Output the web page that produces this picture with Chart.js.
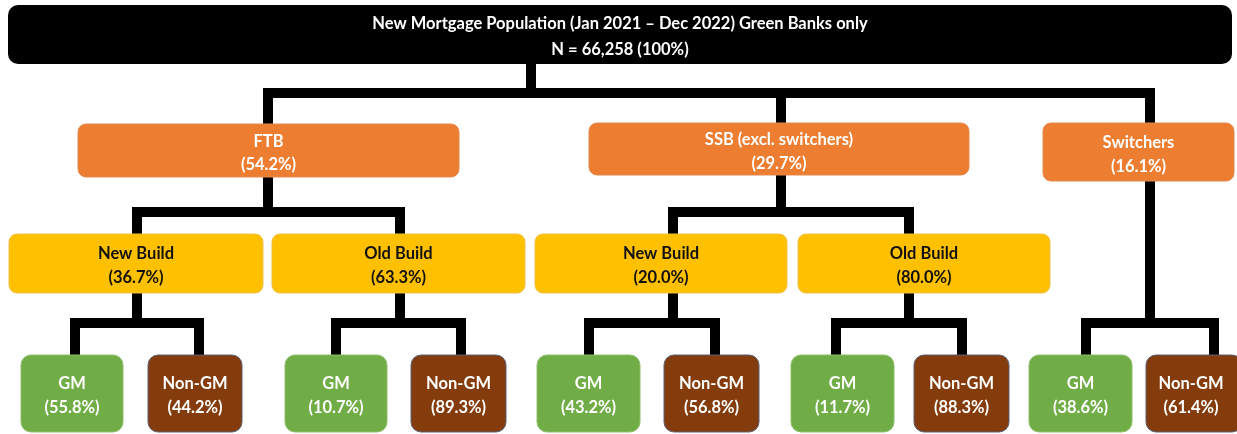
<!DOCTYPE html>
<html>
<head>
<meta charset="utf-8">
<script src="https://cdn.jsdelivr.net/npm/chart.js@4/dist/chart.umd.min.js"></script>
<style>
  html, body { margin: 0; padding: 0; background: #ffffff; }
  #wrap { width: 1237px; height: 434px; }
</style>
</head>
<body>
<div id="wrap"><canvas id="c" width="1237" height="434"></canvas></div>
<script>
// ---------------- DATA ----------------
const rootLines = ['New Mortgage Population (Jan 2021 – Dec 2022) Green Banks only', 'N = 66,258 (100%)'];
const segmentNames = ['FTB', 'SSB (excl. switchers)', 'Switchers'];
const segmentShares = [54.2, 29.7, 16.1];
const buildNames = ['New Build', 'Old Build', 'New Build', 'Old Build'];
const buildShares = [36.7, 63.3, 20.0, 80.0];
const buildParent = [0, 0, 1, 1];            // index into segments
const leafNames = ['GM', 'Non-GM', 'GM', 'Non-GM', 'GM', 'Non-GM', 'GM', 'Non-GM', 'GM', 'Non-GM'];
const leafShares = [55.8, 44.2, 10.7, 89.3, 43.2, 56.8, 11.7, 88.3, 38.6, 61.4];
// parent of each leaf pair: 'b' = build node, 's' = segment node
const leafGroupParent = [['b', 0], ['b', 1], ['b', 2], ['b', 3], ['s', 2]];

// ---------------- LAYOUT (chart units = pixels of a 1237 x 434 area) ----------------
const rootBoxX = [8, 1232], rootBoxY = [5, 64], rootStemX = 531, rootBarY = 93;
const segBoxX = [[78, 459], [589, 969], [1043, 1234]];
const segBoxY = [[124, 177], [123, 175], [123, 181]];
const segStemX = [268, 781, 1150];
const segBarY = 212;
const buildBoxX = [[9, 263], [272, 525], [535, 787], [798, 1050]];
const buildBoxY = [234, 293];
const buildStemX = [137, 400, 673, 909];
const leafBarY = 323;
const leafBoxX = [[21, 123], [148, 242], [285, 387], [411, 506], [537, 640], [664, 759], [791, 894], [914, 1009], [1029, 1132], [1146, 1242]];
const leafBoxY = [355, 432];
const leafDropX = [75, 199, 336, 461, 589, 715, 836, 962, 1086, 1214];

// ---------------- STYLES ----------------
const C_ROOT = '#000000', C_SEG = '#ED7D31', C_BUILD = '#FFC000', C_GM = '#70AD47', C_NONGM = '#843C0C';
const FONT = 'Lato, "Open Sans", sans-serif';

const pct = v => '(' + v.toFixed(1) + '%)';

// ---------------- CONNECTORS ----------------
const connectors = [];
function addPath(pts) { connectors.push(pts); }
const inset = 4;
// root -> segments
addPath([{x: rootStemX, y: rootBoxY[1] - inset}, {x: rootStemX, y: rootBarY}]);
addPath([{x: segStemX[0], y: segBoxY[0][0] + inset}, {x: segStemX[0], y: rootBarY}, {x: segStemX[2], y: rootBarY}, {x: segStemX[2], y: segBoxY[2][0] + inset}]);
addPath([{x: segStemX[1], y: rootBarY}, {x: segStemX[1], y: segBoxY[1][0] + inset}]);
// segments -> builds
[0, 1].forEach(s => {
  const kids = buildParent.map((p, i) => p === s ? i : -1).filter(i => i >= 0);
  addPath([{x: segStemX[s], y: segBoxY[s][1] - inset}, {x: segStemX[s], y: segBarY}]);
  addPath([{x: buildStemX[kids[0]], y: buildBoxY[0] + inset}, {x: buildStemX[kids[0]], y: segBarY},
           {x: buildStemX[kids[kids.length - 1]], y: segBarY}, {x: buildStemX[kids[kids.length - 1]], y: buildBoxY[0] + inset}]);
});
// builds / switchers -> leaves
leafGroupParent.forEach((gp, g) => {
  const px = gp[0] === 'b' ? buildStemX[gp[1]] : segStemX[gp[1]];
  const py = gp[0] === 'b' ? buildBoxY[1] : segBoxY[gp[1]][1];
  const a = 2 * g, b = 2 * g + 1;
  addPath([{x: px, y: py - inset}, {x: px, y: leafBarY}]);
  addPath([{x: leafDropX[a], y: leafBoxY[0] + inset}, {x: leafDropX[a], y: leafBarY},
           {x: leafDropX[b], y: leafBarY}, {x: leafDropX[b], y: leafBoxY[0] + inset}]);
});

const datasets = connectors.map(pts => ({
  data: pts, showLine: true, borderColor: '#000', borderWidth: 10, pointRadius: 0,
  pointHoverRadius: 0, fill: false, tension: 0, borderJoinStyle: 'miter', borderCapStyle: 'butt', clip: false
}));

// ---------------- BOXES ----------------
// dy: baseline offsets of the two text lines from the box centre
const boxes = [];
boxes.push({x: rootBoxX, y: rootBoxY, fill: C_ROOT, text: rootLines, color: '#fff', r: 10, size: 16.5, dy: [-5.5, 20.5], stroke: null});
segmentNames.forEach((n, i) => boxes.push({x: segBoxX[i], y: segBoxY[i], fill: C_SEG, text: [n, pct(segmentShares[i])], color: '#fff', r: 8, size: 16.5, dy: [-4, 19.5], stroke: '#e38a4f'}));
buildNames.forEach((n, i) => boxes.push({x: buildBoxX[i], y: buildBoxY, fill: C_BUILD, text: [n, pct(buildShares[i])], color: '#111', r: 8, size: 16.5, dy: [-5, 19.5], stroke: '#f0c040'}));
leafNames.forEach((n, i) => boxes.push({x: leafBoxX[i], y: leafBoxY, fill: n === 'GM' ? C_GM : C_NONGM, text: [n, pct(leafShares[i])], color: '#fff', r: 10, size: 16.5, dy: [-5, 19], stroke: n === 'GM' ? '#8cbf6a' : '#5a6178'}));

const boxPlugin = {
  id: 'boxes',
  afterDatasetsDraw(chart) {
    const {ctx, scales: {x, y}} = chart;
    ctx.save();
    boxes.forEach(b => {
      const x0 = x.getPixelForValue(b.x[0]), x1 = x.getPixelForValue(b.x[1]);
      const y0 = y.getPixelForValue(b.y[0]), y1 = y.getPixelForValue(b.y[1]);
      ctx.beginPath();
      ctx.roundRect(x0, y0, x1 - x0, y1 - y0, b.r);
      ctx.fillStyle = b.fill;
      ctx.fill();
      if (b.stroke) { ctx.lineWidth = 1; ctx.strokeStyle = b.stroke; ctx.stroke(); }
      ctx.fillStyle = b.color;
      ctx.font = 'bold ' + b.size + 'px ' + FONT;
      ctx.textAlign = 'center';
      ctx.textBaseline = 'alphabetic';
      const cx = b.x[1] > 1237 ? (x0 + x.getPixelForValue(1236)) / 2 : (x0 + x1) / 2;
      const cy = (y0 + y1) / 2;
      b.text.forEach((t, k) => ctx.fillText(t, cx, cy + b.dy[k]));
    });
    ctx.restore();
  }
};

new Chart(document.getElementById('c'), {
  type: 'scatter',
  data: { datasets },
  options: {
    responsive: false,
    animation: false,
    events: [],
    layout: { padding: 0 },
    plugins: { legend: { display: false }, tooltip: { enabled: false } },
    scales: {
      x: { type: 'linear', min: 0, max: 1237, display: false },
      y: { type: 'linear', min: 0, max: 434, reverse: true, display: false }
    }
  },
  plugins: [boxPlugin]
});
</script>
</body>
</html>
